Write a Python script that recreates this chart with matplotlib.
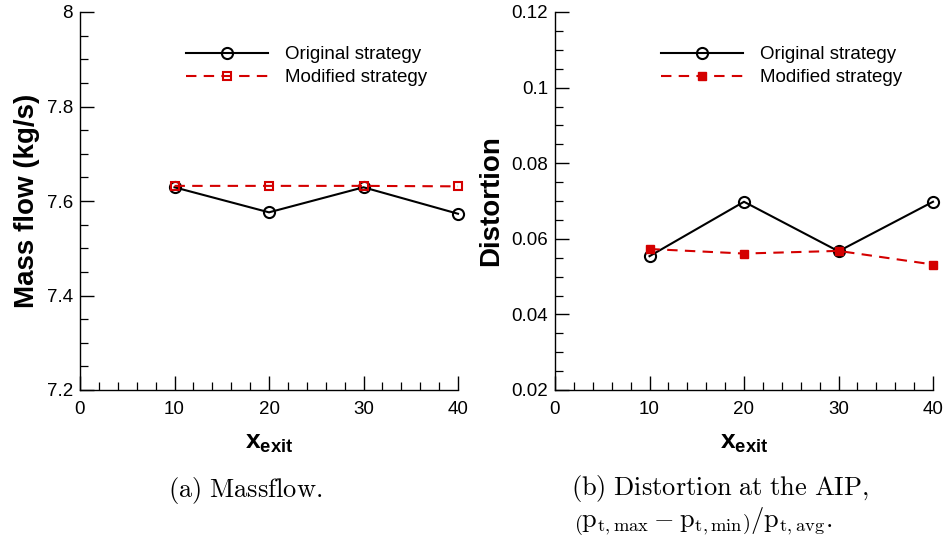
import matplotlib
matplotlib.use("Agg")
import matplotlib.pyplot as plt
from matplotlib.ticker import MultipleLocator

plt.rcParams['font.family'] = ['Liberation Sans', 'DejaVu Sans']
plt.rcParams['mathtext.fontset'] = 'custom'
plt.rcParams['mathtext.rm'] = 'Liberation Sans'
plt.rcParams['mathtext.bf'] = 'Liberation Sans:bold'
plt.rcParams['mathtext.it'] = 'Liberation Sans:italic'

# Exit location of the strategy
x_exit = [10, 20, 30, 40]

# Mass flow (kg/s)
mass_original = [7.629, 7.576, 7.629, 7.573]
mass_modified = [7.632, 7.632, 7.632, 7.631]

# Distortion at the AIP
dist_original = [0.0554, 0.0698, 0.0567, 0.0698]
dist_modified = [0.0573, 0.0561, 0.0568, 0.0532]

labels = ["Original strategy", "Modified strategy"]
red = "#d40000"

fig = plt.figure(figsize=(9.45, 5.41), dpi=100)
ax1 = fig.add_axes([80 / 945, 1 - 390 / 541, 378 / 945, 378 / 541])
ax2 = fig.add_axes([555 / 945, 1 - 390 / 541, 378 / 945, 378 / 541])


def style(ax, ylim, ymaj, ymin, ylabel):
    ax.set_xlim(0, 40)
    ax.set_ylim(*ylim)
    ax.xaxis.set_major_locator(MultipleLocator(10))
    ax.xaxis.set_minor_locator(MultipleLocator(2))
    ax.yaxis.set_major_locator(MultipleLocator(ymaj))
    ax.yaxis.set_minor_locator(MultipleLocator(ymin))
    for s in ("top", "right"):
        ax.spines[s].set_visible(False)
    for s in ("left", "bottom"):
        ax.spines[s].set_linewidth(1.0)
        ax.spines[s].set_clip_on(False)
    ax.tick_params(which="major", direction="in", length=10, width=1.0,
                   labelsize=13.5)
    ax.tick_params(axis="x", which="major", pad=8)
    ax.tick_params(axis="y", which="major", pad=5)
    ax.tick_params(which="minor", direction="in", length=5.5, width=0.9)
    ax.set_ylabel(ylabel, fontsize=20, fontweight="bold", labelpad=5)
    ax.set_xlabel(r"$\mathbf{x}_{\mathbf{exit}}$", fontsize=19, labelpad=9)
    ax.patch.set_alpha(0)


style(ax1, (7.2, 8.0), 0.2, 0.05, "Mass flow (kg/s)")
ax1.set_yticklabels([f"{v:g}" for v in ax1.get_yticks()])
ax1.plot(x_exit, mass_original, color="black", lw=1.5, marker="o", ms=8,
         mfc="none", mew=1.5, label=labels[0], clip_on=False, zorder=3)
ax1.plot(x_exit, mass_modified, color=red, lw=1.5, ls=(0, (5, 3.5)),
         marker="s", ms=6, mfc="none", mew=1.5, label=labels[1],
         clip_on=False, zorder=4)

style(ax2, (0.02, 0.12), 0.02, 0.005, "Distortion")
ax2.set_yticklabels([f"{v:g}" for v in ax2.get_yticks()])
ax2.plot(x_exit, dist_original, color="black", lw=1.5, marker="o", ms=8,
         mfc="none", mew=1.5, label=labels[0], clip_on=False, zorder=3)
ax2.plot(x_exit, dist_modified, color=red, lw=1.5, ls=(0, (5, 3.5)),
         marker="s", ms=6, mfc=red, mec=red, mew=1.0, label=labels[1],
         clip_on=False, zorder=4)

for ax in (ax1, ax2):
    ax.legend(loc="upper left", bbox_to_anchor=(0.26, 0.93), frameon=False,
              fontsize=13.5, handlelength=4.4, handletextpad=0.9,
              labelspacing=0.32, borderaxespad=0)

# Sub-figure captions
fig.text(245 / 945, 1 - 490 / 541, r"$\mathrm{(a)\ Massflow.}$",
         math_fontfamily="cm", fontsize=19, ha="center", va="center")
fig.text(720 / 945, 1 - 489 / 541, r"$\mathrm{(b)\ Distortion\ at\ the\ AIP,}$",
         math_fontfamily="cm", fontsize=19, ha="center", va="center")
fig.text(574 / 945, 1 - 522 / 541,
         r"$\left(\mathrm{p}_{\mathrm{t,max}}-\mathrm{p}_{\mathrm{t,min}}\right)/\mathrm{p}_{\mathrm{t,avg}}.$",
         math_fontfamily="cm", fontsize=19, ha="left", va="center")

fig.savefig("out.png", dpi=100)
